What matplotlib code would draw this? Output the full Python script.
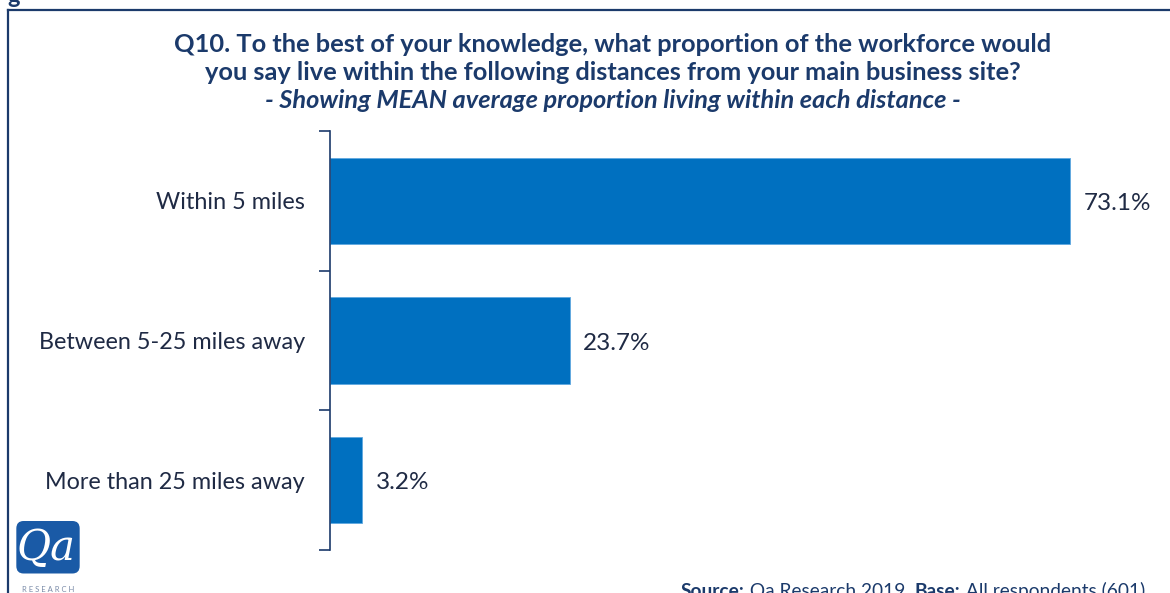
import matplotlib
matplotlib.use("Agg")
import matplotlib.pyplot as plt
from matplotlib.patches import FancyBboxPatch
from matplotlib.lines import Line2D

categories = ["Within 5 miles", "Between 5-25 miles away", "More than 25 miles away"]
values = [73.1, 23.7, 3.2]
value_labels = ["73.1%", "23.7%", "3.2%"]

BAR = "#0070C0"
NAVY = "#1B3A6B"
TEXT = "#1F2A44"
FONT = "Lato"

W, H = 1170, 593
fig = plt.figure(figsize=(W / 100, H / 100), dpi=100)
fig.patch.set_facecolor("white")


def fx(px):
    return px / W


def fy(py):
    return 1 - py / H


# Frame around the chart panel
fig.add_artist(Line2D([fx(8), fx(8)], [fy(10), fy(600)], color=NAVY, lw=1.6,
                      transform=fig.transFigure))
fig.add_artist(Line2D([fx(8), fx(1175)], [fy(10), fy(10)], color=NAVY, lw=1.6,
                      transform=fig.transFigure))
fig.text(fx(14), fy(-4), "g", fontsize=17, fontweight="bold", color=NAVY,
         family=FONT, ha="center", va="center")

# Title
title_kw = dict(ha="center", va="center", fontsize=18.3, fontweight="bold", color=NAVY, family=FONT)
fig.text(fx(613), fy(45), "Q10. To the best of your knowledge, what proportion of the workforce would", **title_kw)
fig.text(fx(613), fy(73), "you say live within the following distances from your main business site?", **title_kw)
fig.text(fx(613), fy(101), "- Showing MEAN average proportion living within each distance -",
         style="italic", **title_kw)

# Bar chart
ax = fig.add_axes([fx(330), fy(550), fx(1140) - fx(330), (550 - 131) / H])
ypos = list(range(len(categories)))
ax.barh(ypos, values, height=0.62, color=BAR, edgecolor="#5FA8E0", linewidth=0.6)
ax.set_xlim(0, 80)
ax.set_ylim(2.5, -0.5)
ax.set_xticks([])
ax.set_yticks(ypos)
ax.set_yticklabels(categories, fontsize=16.8, color=TEXT, family=FONT)
ax.tick_params(axis="y", which="major", length=0, pad=18)
ax.set_yticks([-0.5, 0.5, 1.5, 2.5], minor=True)
ax.tick_params(axis="y", which="minor", length=8, width=1.2, color=NAVY, direction="out")
for s in ["top", "right", "bottom"]:
    ax.spines[s].set_visible(False)
ax.spines["left"].set_color(NAVY)
ax.spines["left"].set_linewidth(1.2)
for y, v, lab in zip(ypos, values, value_labels):
    ax.text(v + 1.3, y + 0.02, lab, va="center", ha="left", fontsize=17.5, color=TEXT, family=FONT)

# Logo
lax = fig.add_axes([fx(12), fy(593), fx(84) - fx(12), (593 - 518) / H])
lax.set_xlim(0, 1)
lax.set_ylim(0, 1)
lax.axis("off")
lax.add_patch(FancyBboxPatch((0.06, 0.26), 0.88, 0.7, boxstyle="round,pad=0,rounding_size=0.1",
                             facecolor="#1A5AA6", edgecolor="none"))
lax.text(0.47, 0.6, "Qa", fontsize=30, color="white", family="DejaVu Serif",
         style="italic", ha="center", va="center")
lax.text(0.5, 0.05, "R E S E A R C H", fontsize=5.5, color="#7A8BA8", family=FONT,
         ha="center", va="center")

# Source line, drawn piece by piece so the bold labels sit inline
fig.canvas.draw()
renderer = fig.canvas.get_renderer()
pieces = [("Source:", "bold"), (" Qa Research 2019  ", "normal"),
          ("Base:", "bold"), (" All respondents (601)", "normal")]
x = fx(681)
for txt, wt in pieces:
    t = fig.text(x, fy(597), txt, ha="left", va="baseline", fontsize=13.8,
                 fontweight=wt, color=NAVY, family=FONT)
    bb = t.get_window_extent(renderer=renderer)
    x += bb.width / W

fig.savefig("out.png", dpi=100, facecolor="white")
